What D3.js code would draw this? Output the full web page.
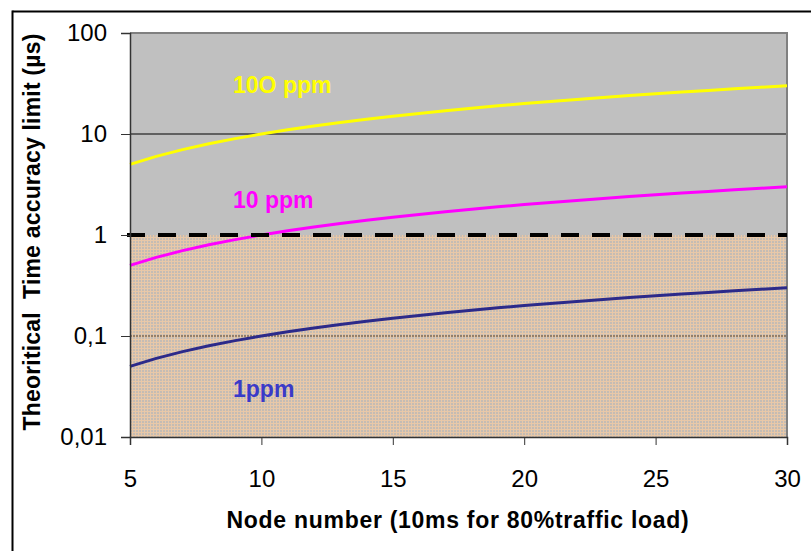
<!DOCTYPE html>
<html>
<head>
<meta charset="utf-8">
<script src="https://cdn.jsdelivr.net/npm/d3@7"></script>
<style>
  html, body { margin: 0; padding: 0; background: #fff; }
  svg { display: block; font-family: "Liberation Sans", Arial, sans-serif; }
</style>
</head>
<body>
<svg id="chart" width="811" height="551"></svg>
<script>
// node counts on x axis
const nodes = [5, 6, 7, 8, 9, 10, 11, 12, 13, 14, 15, 16, 17, 18, 19, 20, 21, 22, 23, 24, 25, 26, 27, 28, 29, 30];
// time accuracy limit (us)
const ppm100 = [5, 6, 7, 8, 9, 10, 11, 12, 13, 14, 15, 16, 17, 18, 19, 20, 21, 22, 23, 24, 25, 26, 27, 28, 29, 30];
const ppm10 = [0.5, 0.6, 0.7, 0.8, 0.9, 1.0, 1.1, 1.2, 1.3, 1.4, 1.5, 1.6, 1.7, 1.8, 1.9, 2.0, 2.1, 2.2, 2.3, 2.4, 2.5, 2.6, 2.7, 2.8, 2.9, 3.0];
const ppm1 = [0.05, 0.06, 0.07, 0.08, 0.09, 0.10, 0.11, 0.12, 0.13, 0.14, 0.15, 0.16, 0.17, 0.18, 0.19, 0.20, 0.21, 0.22, 0.23, 0.24, 0.25, 0.26, 0.27, 0.28, 0.29, 0.30];
const seriesNames = ["10O ppm", "10 ppm", "1ppm"];
const yTicks = [0.01, 0.1, 1, 10, 100];
const yTickLabels = ["0,01", "0,1", "1", "10", "100"];
const xTicks = [5, 10, 15, 20, 25, 30];

const svg = d3.select("#chart");
const plotL = 130, plotR = 787, plotT = 33, plotB = 437;
const font = "'Liberation Sans', Arial, sans-serif";

const x = d3.scaleLinear().domain([5, 30]).range([plotL, plotR]);
const y = d3.scaleLog().domain([0.01, 100]).range([plotB, plotT]);

// outer frame (only top and left visible)
svg.append("line").attr("x1", 12.5).attr("x2", 811).attr("y1", 11.5).attr("y2", 11.5)
  .attr("stroke", "#000").attr("stroke-width", 2);
svg.append("line").attr("x1", 12.5).attr("x2", 12.5).attr("y1", 10.5).attr("y2", 551)
  .attr("stroke", "#000").attr("stroke-width", 2);

// pattern for the area under 1 us
const defs = svg.append("defs");
const pat = defs.append("pattern").attr("id", "peach").attr("width", 3).attr("height", 3)
  .attr("patternUnits", "userSpaceOnUse");
pat.append("rect").attr("width", 3).attr("height", 3).attr("fill", "#c4bcb4");
pat.append("rect").attr("width", 3).attr("height", 1).attr("fill", "#e8c8a8");
pat.append("rect").attr("width", 1).attr("height", 3).attr("fill", "#e8c8a8");

// backgrounds
svg.append("rect").attr("x", plotL).attr("y", y(100)).attr("width", plotR - plotL)
  .attr("height", y(1) - y(100)).attr("fill", "#c0c0c0");
svg.append("rect").attr("x", plotL).attr("y", y(1)).attr("width", plotR - plotL)
  .attr("height", y(0.01) - y(1)).attr("fill", "url(#peach)");

// grid lines
svg.append("line").attr("x1", plotL).attr("x2", plotR).attr("y1", y(10)).attr("y2", y(10))
  .attr("stroke", "#000").attr("stroke-width", 1);
svg.append("line").attr("x1", plotL).attr("x2", plotR).attr("y1", y(0.1)).attr("y2", y(0.1))
  .attr("stroke", "#7d6a55").attr("stroke-width", 1.5).attr("stroke-dasharray", "2,1");

// plot border top and right
svg.append("path")
  .attr("d", `M${plotL},${plotT}H${plotR}V${plotB}`)
  .attr("fill", "none").attr("stroke", "#808080").attr("stroke-width", 2);

// series lines
const line = d3.line().x((d, i) => x(nodes[i])).y(d => y(d));
const series = [
  { values: ppm100, color: "#ffff00" },
  { values: ppm10, color: "#ff00ff" },
  { values: ppm1, color: "#2c2a8a" }
];
series.forEach(s => {
  svg.append("path").datum(s.values).attr("d", line)
    .attr("fill", "none").attr("stroke", s.color).attr("stroke-width", 3)
    .attr("stroke-linejoin", "round");
});

// dashed 1 us limit
svg.append("line").attr("x1", plotL - 3).attr("x2", plotR).attr("y1", y(1)).attr("y2", y(1))
  .attr("stroke", "#000").attr("stroke-width", 4).attr("stroke-dasharray", "18,13");

// axes
const yAxis = d3.axisLeft(y).tickValues(yTicks).tickFormat((d, i) => yTickLabels[i])
  .tickSize(9).tickPadding(14);
const gy = svg.append("g").attr("transform", `translate(${plotL},0)`).call(yAxis);
gy.select(".domain").attr("stroke", "#333").attr("stroke-width", 1.5);
gy.selectAll(".tick line").attr("stroke", "#333");
gy.selectAll("text").attr("font-size", 24).attr("fill", "#000").attr("font-family", font);

const xAxis = d3.axisBottom(x).tickValues(xTicks).tickSize(8).tickPadding(25);
const gx = svg.append("g").attr("transform", `translate(0,${plotB})`).call(xAxis);
gx.select(".domain").attr("stroke", "#333").attr("stroke-width", 1.5);
gx.selectAll(".tick line").attr("stroke", "#333");
gx.selectAll("text").attr("font-size", 24).attr("fill", "#000").attr("font-family", font);

// axis titles, spaced out to the reference width
function fitText(sel, target) {
  const n = sel.text().length;
  const len = sel.node().getComputedTextLength();
  sel.attr("letter-spacing", Math.max(0, (target - len) / n));
}
const xTitle = svg.append("text").attr("x", 458).attr("y", 528).attr("text-anchor", "middle")
  .attr("font-size", 23).attr("font-weight", "bold").attr("font-family", font)
  .text("Node number (10ms for 80%traffic load)");
fitText(xTitle, 463);
const yTitle = svg.append("text").attr("transform", "translate(40,232) rotate(-90)")
  .attr("text-anchor", "middle").style("white-space", "pre")
  .attr("font-size", 23).attr("font-weight", "bold").attr("font-family", font)
  .text("Theoritical  Time accuracy limit (µs)");
fitText(yTitle, 397);

// series labels
const labels = [
  { text: seriesNames[0], color: "#ffff00", at: [8.92, 25.5] },
  { text: seriesNames[1], color: "#ff00ff", at: [8.92, 1.85] },
  { text: seriesNames[2], color: "#3a3ac8", at: [8.92, 0.0249] }
];
labels.forEach(l => {
  svg.append("text").attr("x", x(l.at[0])).attr("y", y(l.at[1]))
    .attr("font-size", 23).attr("font-weight", "bold").attr("font-family", font)
    .attr("fill", l.color).text(l.text);
});
</script>
</body>
</html>
